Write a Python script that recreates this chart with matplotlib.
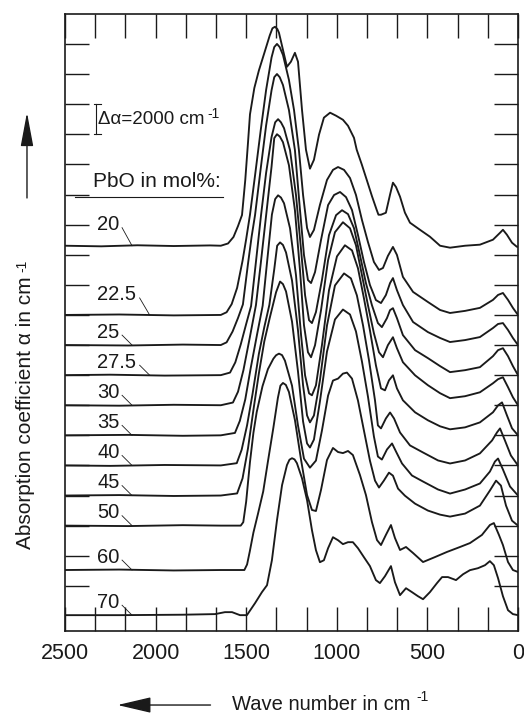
import matplotlib.pyplot as plt
import numpy as np

plt.rcParams['font.family'] = ['Liberation Sans', 'DejaVu Sans']

# PbO content of each glass and the vertical shift of its spectrum (cm^-1)
pbo_labels = ['20', '22.5', '25', '27.5', '30', '35', '40', '45', '50', '60', '70']
offsets = [25600, 21000, 19000, 17000, 15000, 13000, 11000, 9000, 7000, 4050, 1050]
label_lift = [1400, 1330, 860, 860, 860, 860, 860, 860, 860, 860, 860]

# (wave number, absorption coefficient above baseline)
pbo_20 = [(2500, 0), (2300, -40), (2100, 30), (1900, -20), (1700, 20), (1640, 0), (1600, 150), (1570, 580),
          (1545, 1310), (1523, 2040), (1505, 4370), (1490, 6840), (1479, 8730), (1455, 10480), (1430, 11640),
          (1400, 12800), (1370, 13970), (1355, 14450), (1341, 14550), (1328, 14400), (1319, 14150), (1297, 13020),
          (1275, 11890), (1253, 12230), (1231, 12820), (1214, 12230), (1192, 9040), (1170, 6380), (1148, 5120),
          (1126, 5710), (1098, 7380), (1071, 8510), (1037, 8840), (1004, 8640), (966, 8370), (938, 7970),
          (905, 7170), (890, 6380), (862, 5400), (835, 4390), (806, 3300), (780, 2390), (770, 2060), (756, 2060),
          (729, 2190), (706, 3400), (690, 4190), (673, 3900), (651, 3260), (624, 2200), (596, 1530), (541, 1060),
          (486, 600), (430, 0), (375, -130), (292, 0), (210, 70), (138, 400), (99, 860), (83, 1060), (61, 730),
          (33, 200), (6, -70), (0, -70)]
pbo_22_5 = [(2500, 0), (2200, 30), (1900, -30), (1640, 0), (1608, 180), (1580, 720), (1550, 1800), (1520, 3600),
            (1500, 5040), (1479, 6660), (1450, 9370), (1420, 12250), (1390, 14950), (1360, 17110), (1345, 17800),
            (1330, 18010), (1315, 17800), (1297, 17280), (1264, 15620), (1236, 13620), (1209, 10960), (1186, 7970),
            (1164, 5780), (1148, 5180), (1126, 5650), (1093, 7310), (1054, 8970), (1021, 9640), (993, 9830),
            (960, 9640), (927, 9100), (894, 7970), (861, 6310), (828, 4850), (795, 3520), (767, 2990), (745, 3120),
            (718, 3920), (690, 4520), (668, 3990), (635, 2530), (579, 1530), (497, 860), (430, 330), (375, 130),
            (292, 270), (210, 470), (138, 1000), (110, 1330), (83, 1460), (55, 1000), (28, 470), (0, 0)]
pbo_25 = [(2500, 0), (2150, -30), (1850, 30), (1640, 0), (1608, 180), (1575, 900), (1545, 1800), (1518, 2700),
          (1490, 5400), (1470, 7200), (1451, 8640), (1420, 11710), (1390, 14590), (1360, 16930), (1345, 17800),
          (1330, 18010), (1315, 17800), (1297, 17280), (1264, 15620), (1231, 12960), (1203, 8970), (1181, 5980),
          (1159, 4320), (1142, 4120), (1120, 4850), (1087, 6980), (1048, 9300), (1015, 9970), (982, 10170),
          (949, 9830), (916, 8970), (883, 7310), (850, 5520), (817, 3990), (784, 2990), (756, 2790), (729, 3320),
          (706, 4120), (690, 4450), (668, 3650), (635, 2660), (579, 1530), (497, 860), (430, 470), (375, 200),
          (292, 330), (210, 530), (138, 1130), (110, 1400), (83, 1460), (55, 1000), (28, 470), (0, 0)]
pbo_27_5 = [(2500, 0), (2250, 30), (1950, -30), (1640, 0), (1589, 170), (1560, 850), (1530, 2040), (1500, 3400),
            (1473, 4590), (1445, 7650), (1418, 10630), (1390, 13440), (1360, 15820), (1340, 16800), (1324, 17010),
            (1308, 16800), (1291, 16410), (1258, 14950), (1225, 11960), (1197, 8310), (1175, 5320), (1153, 3650),
            (1137, 3460), (1115, 4190), (1082, 6310), (1043, 9300), (1004, 10630), (971, 10960), (938, 10700),
            (905, 9770), (872, 7970), (839, 6110), (806, 4650), (773, 3460), (751, 3190), (723, 3790), (706, 4320),
            (690, 4450), (668, 3790), (635, 2660), (568, 1660), (497, 1130), (430, 600), (375, 200), (292, 330),
            (210, 530), (138, 1260), (110, 1660), (83, 1790), (55, 1260), (28, 600), (0, 0)]
pbo_30 = [(2500, 0), (2200, -30), (1900, 30), (1640, 0), (1573, 180), (1545, 900), (1515, 2340), (1480, 4500),
          (1446, 6660), (1420, 9370), (1390, 12610), (1360, 15850), (1345, 17750), (1330, 18010), (1314, 17850),
          (1297, 17480), (1264, 15950), (1231, 12960), (1203, 8970), (1181, 5320), (1159, 3520), (1142, 3190),
          (1120, 3990), (1087, 6310), (1048, 9640), (1010, 11500), (966, 12160), (927, 11760), (894, 10630),
          (861, 8640), (828, 6650), (795, 4780), (767, 3520), (745, 3190), (718, 3990), (690, 4520), (668, 3790),
          (635, 2860), (568, 1990), (497, 1330), (430, 800), (375, 470), (292, 600), (210, 860), (138, 1460),
          (110, 1730), (83, 1860), (55, 1200), (28, 530), (0, 0)]
pbo_35 = [(2500, 0), (2150, 30), (1850, -30), (1640, 0), (1562, 160), (1535, 960), (1505, 2390), (1475, 4470),
          (1440, 6700), (1409, 8610), (1385, 11480), (1358, 14670), (1340, 15700), (1324, 15950), (1308, 15800),
          (1291, 15420), (1258, 13760), (1225, 10630), (1197, 6650), (1175, 3990), (1153, 2790), (1137, 2660),
          (1115, 3320), (1082, 5980), (1043, 9640), (999, 11890), (955, 12630), (916, 12290), (883, 11100),
          (850, 9100), (817, 6980), (784, 4650), (756, 3120), (734, 2990), (712, 3650), (690, 3990), (668, 3120),
          (635, 2330), (568, 1530), (497, 1000), (430, 600), (375, 400), (292, 530), (210, 860), (138, 1530),
          (110, 1990), (88, 2190), (61, 1330), (33, 470), (0, 0)]
pbo_40 = [(2500, 0), (2250, -30), (1950, 30), (1640, 0), (1552, 150), (1525, 1040), (1495, 2670), (1465, 4740),
          (1430, 7410), (1400, 9190), (1372, 10670), (1345, 13040), (1329, 14600), (1313, 14820), (1297, 14650),
          (1280, 14150), (1247, 12290), (1214, 8970), (1186, 5320), (1164, 3320), (1148, 2860), (1126, 3320),
          (1093, 5650), (1054, 9300), (1010, 11960), (960, 12760), (922, 12430), (889, 11300), (855, 9300),
          (822, 6980), (789, 4320), (773, 2660), (756, 2460), (729, 3120), (706, 3520), (684, 3120), (651, 2190),
          (596, 1330), (524, 860), (441, 330), (375, 130), (292, 330), (210, 800), (143, 1660), (116, 2190),
          (99, 2460), (72, 1660), (39, 660), (0, 0)]
pbo_45 = [(2500, 0), (2200, 30), (1900, -30), (1640, 0), (1550, 140), (1520, 1140), (1490, 3130), (1460, 5690),
          (1430, 8110), (1400, 10240), (1370, 11800), (1335, 13510), (1313, 14220), (1297, 14050), (1280, 13560),
          (1247, 11560), (1214, 8240), (1186, 4920), (1164, 3460), (1148, 3190), (1126, 3720), (1093, 6250),
          (1054, 9570), (1010, 11700), (966, 12360), (927, 12030), (894, 10900), (861, 8900), (828, 6580),
          (795, 3920), (773, 2590), (751, 2390), (723, 3060), (695, 3460), (673, 2920), (640, 2130), (585, 1330),
          (524, 930), (441, 400), (375, 130), (292, 400), (210, 800), (155, 1590), (127, 2260), (110, 2460),
          (83, 1730), (44, 600), (0, 0)]
pbo_50 = [(2500, 0), (2150, -30), (1850, 30), (1640, 0), (1530, 0), (1516, 230), (1500, 1600), (1490, 2860),
          (1479, 4230), (1460, 6170), (1442, 7540), (1410, 9260), (1380, 10400), (1350, 11090), (1335, 11320),
          (1319, 11430), (1302, 11330), (1286, 10960), (1247, 9300), (1214, 6650), (1181, 4450), (1148, 3850),
          (1115, 4320), (1082, 6310), (1048, 8640), (1021, 9640), (993, 9770), (966, 10100), (944, 10170),
          (916, 9770), (883, 8310), (850, 6310), (817, 4320), (789, 2990), (767, 2530), (740, 2990), (712, 3520),
          (690, 3320), (662, 2460), (624, 1990), (568, 1460), (497, 1000), (430, 730), (375, 600), (292, 800),
          (210, 1330), (155, 2330), (121, 2990), (94, 2660), (66, 1330), (33, 330), (0, 0)]
pbo_60 = [(2500, 0), (2200, 30), (1900, -30), (1640, 0), (1510, 0), (1495, 370), (1480, 1240), (1460, 2490),
          (1435, 3730), (1406, 5220), (1380, 7210), (1350, 9450), (1325, 11440), (1311, 12250), (1297, 12430),
          (1281, 12300), (1264, 11830), (1231, 9970), (1197, 7310), (1164, 4980), (1137, 3990), (1115, 3920),
          (1087, 5320), (1054, 7310), (1021, 8110), (993, 7840), (966, 7770), (938, 7910), (911, 7640),
          (872, 6310), (839, 4980), (806, 3190), (778, 1990), (756, 1660), (729, 2330), (701, 2990), (679, 2130),
          (651, 1330), (618, 1530), (579, 1130), (524, 530), (458, 860), (392, 1200), (320, 1530), (265, 1790),
          (199, 2330), (155, 2990), (133, 3120), (105, 2330), (83, 1660), (55, 530), (28, 0), (0, -130)]
pbo_70 = [(2500, 0), (2200, 0), (1850, 30), (1672, 70), (1617, 200), (1578, 200), (1534, 0), (1496, 0),
          (1451, 800), (1413, 1530), (1385, 1990), (1358, 3650), (1330, 6310), (1302, 8640), (1275, 9970),
          (1261, 10330), (1247, 10430), (1233, 10350), (1220, 10100), (1192, 9100), (1164, 7640), (1137, 5650),
          (1115, 4320), (1093, 3520), (1071, 3650), (1048, 4450), (1021, 5180), (993, 4980), (966, 4720),
          (938, 4850), (911, 4850), (883, 4450), (850, 3850), (817, 3260), (784, 2330), (762, 2130), (734, 2590),
          (701, 3260), (679, 2190), (651, 1330), (618, 1790), (585, 1530), (552, 1260), (524, 1060), (486, 1530),
          (447, 2130), (419, 2530), (386, 2530), (342, 2330), (303, 2720), (265, 2990), (221, 3120), (182, 3320),
          (155, 3590), (133, 3320), (110, 2460), (83, 1260), (55, 330), (28, 70), (0, 0)]

spectra = [pbo_20, pbo_22_5, pbo_25, pbo_27_5, pbo_30, pbo_35, pbo_40, pbo_45, pbo_50, pbo_60, pbo_70]

ink = '#1a1a1a'
fig = plt.figure(figsize=(5.24, 7.17), dpi=100)
ax = fig.add_axes([0.124, 0.12, 0.8645, 0.8605])

for spec, off, lab, lift in zip(spectra, offsets, pbo_labels, label_lift):
    nu, a = np.array(spec, dtype=float).T
    ax.plot(nu, a + off, color=ink, lw=1.35, solid_joinstyle='round')
    ax.text(2323, off + lift, lab, fontsize=14.5, ha='left', va='center', color=ink)
    x0 = 2185 if len(lab) == 2 else 2088
    ax.plot([x0, x0 - 55], [off + lift - 200, off], color=ink, lw=0.6)


def with_exponent(txt, dx=2, dy=-3, rot=0):
    # small "-1" exponent set after a text item
    if rot:
        xy, ha, va = (0, 1), 'center', 'bottom'
    else:
        xy, ha, va = (1, 1), 'left', 'center'
    ax.annotate('-1', xy=xy, xycoords=txt, xytext=(dx, dy), textcoords='offset points',
                fontsize=10, ha=ha, va=va, rotation=rot, color=ink)


# scale bar for the vertical shift
ax.plot([2329, 2329], [33000, 35000], color=ink, lw=0.8)
ax.plot([2342, 2302], [33000, 33000], color=ink, lw=0.8)
ax.plot([2342, 2302], [35000, 35000], color=ink, lw=0.8)
t = ax.text(2316, 34000, 'Δα=2000 cm', fontsize=13.5, ha='left', va='center', color=ink)
with_exponent(t, dx=1.5, dy=-2)

ax.text(2345, 29840, 'PbO in mol%:', fontsize=15, ha='left', va='center', color=ink)
ax.plot([2445, 1628], [28840, 28840], color=ink, lw=0.8)

ax.set_xlim(2500, 0)
ax.set_ylim(0, 41000)
ax.set_xticks([2500, 2000, 1500, 1000, 500, 0])
ax.set_xticks(np.linspace(0, 2500, 16), minor=True)
ax.set_yticks(np.arange(3000, 40000, 2000))
ax.tick_params(which='both', direction='in', length=17, width=1, top=True, right=True,
               colors=ink, labelsize=15.5, pad=9)
ax.tick_params(axis='y', labelleft=False)
for s in ax.spines.values():
    s.set_linewidth(1.2)
    s.set_color(ink)

# axis titles with their arrows
t = fig.text(0.048, 0.425, 'Absorption coefficient α in cm', rotation=90,
             ha='center', va='center', fontsize=15, color=ink)
with_exponent(t, dx=5, dy=3, rot=90)
ax.annotate('', xy=(0.0515, 0.847), xytext=(0.0515, 0.72), xycoords='figure fraction',
            textcoords='figure fraction',
            arrowprops=dict(arrowstyle='-|>,head_length=1.5,head_width=0.28', color=ink, lw=1,
                            mutation_scale=14))
t = fig.text(0.443, 0.018, 'Wave number in cm', ha='left', va='center', fontsize=14.5, color=ink)
with_exponent(t, dx=4, dy=-2)
ax.annotate('', xy=(0.219, 0.0167), xytext=(0.407, 0.0167), xycoords='figure fraction',
            textcoords='figure fraction',
            arrowprops=dict(arrowstyle='-|>,head_length=1.5,head_width=0.35', color=ink, lw=1,
                            mutation_scale=14))

fig.savefig('out.png', dpi=100)
